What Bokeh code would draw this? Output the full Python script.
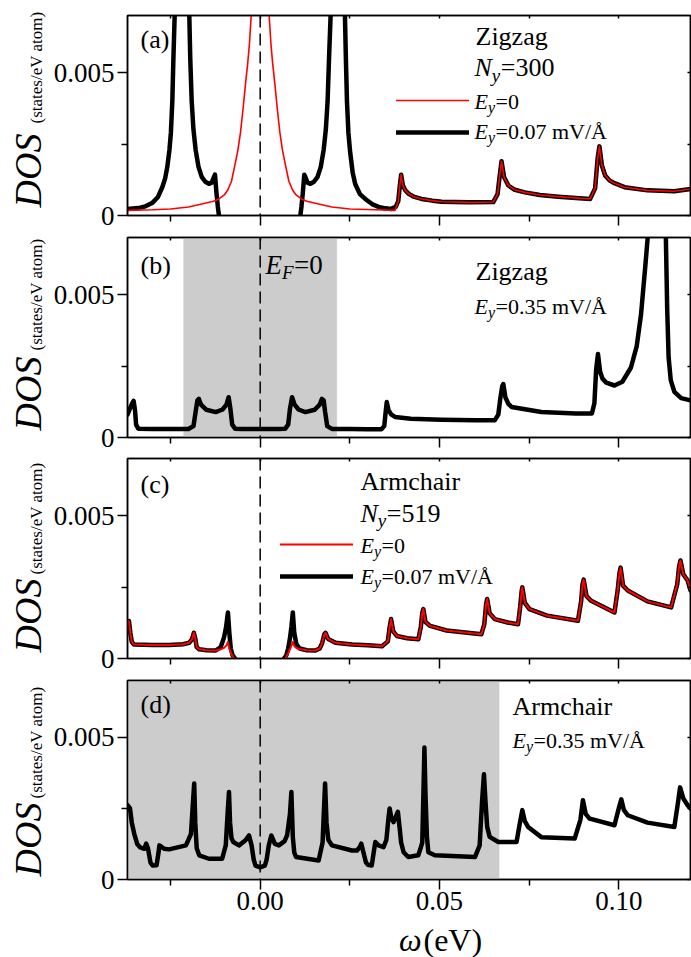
from math import pi

import numpy as np
from bokeh.embed import file_html
from bokeh.layouts import column, row
from bokeh.models import (BoxAnnotation, ColumnDataSource, CustomJSTickFormatter,
                          FixedTicker, Label, Legend, LegendItem, LinearAxis, Range1d, Span)
from bokeh.plotting import figure
from bokeh.resources import INLINE

nan = float("nan")
FONT = "Liberation Serif"
MID = 0.3375          # distance from baseline to the middle of a text line, in em

# ---------------------------------------------------------------- axes
X_RANGE = (-0.037, 0.12)
Y_RANGE = (0.0, 0.007)
x_major = [0.0, 0.05, 0.10]
x_minor = [-0.025, 0.025, 0.075]
x_labels = ["0.00", "0.05", "0.10"]
y_major = [0.0, 0.005]
y_minor = [0.0025]
y_labels = ["0", "0.005"]
fermi_level = 0.0

# ---------------------------------------------------------------- (a) zigzag, N_y = 300
# common high-energy part of both curves
zz_tail_x = [0.0385, 0.0389, 0.0393, 0.0398, 0.0405, 0.0415, 0.0430, 0.0450, 0.0480, 0.0506,
             0.0580, 0.0650, 0.0662, 0.0668, 0.0673, 0.0680, 0.0692, 0.0710, 0.0738, 0.0780,
             0.0831, 0.0920, 0.0934, 0.0941, 0.0946, 0.0953, 0.0962, 0.0975, 0.0988, 0.1016,
             0.1080, 0.1155, 0.1200]
zz_tail_y = [0.00050, 0.00100, 0.00143, 0.00105, 0.00088, 0.00075, 0.00065, 0.00058, 0.00052, 0.00048,
             0.00046, 0.00047, 0.00075, 0.00140, 0.00190, 0.00135, 0.00105, 0.00090, 0.00081, 0.00072,
             0.00066, 0.00058, 0.00095, 0.00200, 0.00242, 0.00175, 0.00140, 0.00122, 0.00113, 0.00099,
             0.00088, 0.00085, 0.00093]
# E_y = 0
zz_e0_x = [-0.0370, -0.0300, -0.0250, -0.0200, -0.0160, -0.0130, -0.0115, -0.0100, -0.0090, -0.0080,
           -0.0070, -0.0062, -0.0055, -0.0048, -0.0041, -0.0035, -0.0030, -0.0024, 0.0000, 0.0024,
           0.0030, 0.0035, 0.0041, 0.0048, 0.0055, 0.0062, 0.0070, 0.0080, 0.0090, 0.0100,
           0.0115, 0.0130, 0.0160, 0.0200, 0.0250, 0.0320, 0.0376]
zz_e0_y = [0.00018, 0.00020, 0.00023, 0.00030, 0.00041, 0.00050, 0.00058, 0.00072, 0.00090, 0.00120,
           0.00180, 0.00230, 0.00290, 0.00370, 0.00460, 0.00530, 0.00600, 0.00720, 0.01500, 0.00720,
           0.00600, 0.00530, 0.00460, 0.00370, 0.00290, 0.00230, 0.00180, 0.00120, 0.00090, 0.00072,
           0.00058, 0.00050, 0.00041, 0.00030, 0.00023, 0.00020, 0.00018]
# E_y = 0.07 mV/A (gap around E = 0)
zz_e07_x = [-0.0370, -0.0340, -0.0320, -0.0300, -0.0285, -0.0273, -0.0265, -0.0259, -0.0253, -0.0249,
            -0.0245, -0.0242, -0.0238, -0.0218, -0.0198, -0.0195, -0.0191, -0.0186, -0.0180, -0.0172,
            -0.0163, -0.0153, -0.0143, -0.0135, -0.0129, -0.0126, -0.0122, -0.0118, -0.0115, nan,
            0.0112, 0.0115, 0.0119, 0.0123, 0.0126, 0.0132, 0.0140, 0.0150, 0.0160, 0.0169,
            0.0177, 0.0183, 0.0188, 0.0192, 0.0197, 0.0217, 0.0236, 0.0239, 0.0242, 0.0246,
            0.0251, 0.0258, 0.0265, 0.0278, 0.0293, 0.0312, 0.0330, 0.0350, 0.0365, 0.0378]
zz_e07_y = [0.00023, 0.00026, 0.00032, 0.00045, 0.00065, 0.00099, 0.00130, 0.00170, 0.00230, 0.00290,
            0.00400, 0.00550, 0.00720, 0.01000, 0.00720, 0.00550, 0.00400, 0.00300, 0.00230, 0.00170,
            0.00135, 0.00118, 0.00111, 0.00115, 0.00135, 0.00143, 0.00080, 0.00030, 0.00000, nan,
            0.00000, 0.00030, 0.00080, 0.00143, 0.00135, 0.00115, 0.00111, 0.00118, 0.00135, 0.00170,
            0.00230, 0.00300, 0.00400, 0.00550, 0.00720, 0.01000, 0.00720, 0.00550, 0.00400, 0.00290,
            0.00220, 0.00150, 0.00110, 0.00075, 0.00058, 0.00040, 0.00030, 0.00025, 0.00023, 0.00030]

# ---------------------------------------------------------------- (b) zigzag, E_y = 0.35 mV/A
zz35_x = [-0.0370, -0.0362, -0.0356, -0.0353, -0.0349, -0.0346, -0.0340, -0.0300, -0.0250, -0.0200,
          -0.0186, -0.0180, -0.0175, -0.0171, -0.0165, -0.0150, -0.0124, -0.0105, -0.0094, -0.0088,
          -0.0083, -0.0078, -0.0070, -0.0050, 0.0000, 0.0050, 0.0070, 0.0078, 0.0083, 0.0089,
          0.0096, 0.0107, 0.0126, 0.0152, 0.0166, 0.0172, 0.0177, 0.0181, 0.0187, 0.0200,
          0.0250, 0.0300, 0.0338, 0.0346, 0.0350, 0.0353, 0.0358, 0.0366, 0.0376, 0.0420,
          0.0506, 0.0600, 0.0654, 0.0664, 0.0670, 0.0675, 0.0678, 0.0684, 0.0692, 0.0701,
          0.0784, 0.0880, 0.0925, 0.0932, 0.0937, 0.0942, 0.0948, 0.0955, 0.0965, 0.0988,
          0.1010, 0.1034, 0.1050, 0.1062, 0.1074, 0.1082, 0.1106, 0.1131, 0.1135, 0.1139,
          0.1145, 0.1155, 0.1174, 0.1200]
zz35_y = [0.00080, 0.00105, 0.00122, 0.00128, 0.00095, 0.00045, 0.00031, 0.00030, 0.00030, 0.00030,
          0.00040, 0.00090, 0.00130, 0.00135, 0.00115, 0.00097, 0.00089, 0.00098, 0.00115, 0.00141,
          0.00100, 0.00045, 0.00031, 0.00030, 0.00030, 0.00030, 0.00031, 0.00045, 0.00100, 0.00141,
          0.00115, 0.00098, 0.00089, 0.00097, 0.00115, 0.00135, 0.00130, 0.00090, 0.00040, 0.00030,
          0.00030, 0.00029, 0.00029, 0.00040, 0.00090, 0.00124, 0.00095, 0.00080, 0.00072, 0.00066,
          0.00062, 0.00060, 0.00060, 0.00080, 0.00140, 0.00180, 0.00187, 0.00140, 0.00118, 0.00107,
          0.00089, 0.00084, 0.00084, 0.00120, 0.00240, 0.00292, 0.00230, 0.00205, 0.00192, 0.00182,
          0.00195, 0.00245, 0.00320, 0.00430, 0.00600, 0.00720, 0.01100, 0.00720, 0.00450, 0.00280,
          0.00200, 0.00160, 0.00138, 0.00130]
zz35_window = (-0.0214, 0.0214)

# ---------------------------------------------------------------- (c) armchair, N_y = 519
ac_left_x = [-0.0370, -0.0366, -0.0362, -0.0358, -0.0352, -0.0300, -0.0254, -0.0215, -0.0198, -0.0190,
             -0.0185, -0.0181, -0.0177, -0.0170, -0.0150, -0.0124]
ac_left_y = [0.00122, 0.00131, 0.00090, 0.00058, 0.00049, 0.00047, 0.00047, 0.00050, 0.00055, 0.00068,
             0.00090, 0.00070, 0.00040, 0.00032, 0.00029, 0.00028]
ac_e07_core_x = [-0.0110, -0.0101, -0.0095, -0.0090, -0.0086, -0.0082, -0.0077, -0.0070, nan,
                 0.0067, 0.0073, 0.0078, 0.0083, 0.0087, 0.0091, 0.0095, 0.0101, 0.0110]
ac_e07_core_y = [0.00040, 0.00073, 0.00110, 0.00161, 0.00090, 0.00035, 0.00012, 0.00000, nan,
                 0.00000, 0.00012, 0.00035, 0.00070, 0.00110, 0.00161, 0.00090, 0.00050, 0.00035]
ac_e0_core_x = [-0.0110, -0.0100, -0.0093, -0.0090, -0.0086, -0.0080, -0.0073, nan,
                0.0070, 0.0077, 0.0084, 0.0088, 0.0091, 0.0096, 0.0102, 0.0110]
ac_e0_core_y = [0.00032, 0.00038, 0.00048, 0.00058, 0.00035, 0.00015, 0.00000, nan,
                0.00000, 0.00015, 0.00035, 0.00048, 0.00058, 0.00042, 0.00036, 0.00033]
ac_right_x = [0.0130, 0.0154, 0.0166, 0.0173, 0.0179, 0.0182, 0.0190, 0.0210, 0.0256, 0.0300,
              0.0340, 0.0356, 0.0361, 0.0365, 0.0371, 0.0381, 0.0410, 0.0441, 0.0448, 0.0452,
              0.0455, 0.0461, 0.0474, 0.0520, 0.0617, 0.0625, 0.0630, 0.0633, 0.0640, 0.0654,
              0.0690, 0.0719, 0.0725, 0.0729, 0.0731, 0.0738, 0.0751, 0.0800, 0.0886, 0.0895,
              0.0899, 0.0902, 0.0910, 0.0923, 0.0988, 0.0997, 0.1002, 0.1005, 0.1012, 0.1025,
              0.1080, 0.1146, 0.1163, 0.1168, 0.1172, 0.1180, 0.1192, 0.1200]
ac_right_y = [0.00029, 0.00028, 0.00035, 0.00055, 0.00085, 0.00090, 0.00068, 0.00055, 0.00049, 0.00046,
              0.00043, 0.00060, 0.00110, 0.00138, 0.00095, 0.00079, 0.00071, 0.00067, 0.00110, 0.00160,
              0.00173, 0.00128, 0.00114, 0.00098, 0.00085, 0.00120, 0.00190, 0.00208, 0.00158, 0.00138,
              0.00126, 0.00120, 0.00180, 0.00235, 0.00249, 0.00195, 0.00173, 0.00150, 0.00132, 0.00200,
              0.00260, 0.00276, 0.00218, 0.00202, 0.00161, 0.00240, 0.00300, 0.00318, 0.00255, 0.00238,
              0.00200, 0.00179, 0.00260, 0.00320, 0.00343, 0.00295, 0.00273, 0.00238]

# ---------------------------------------------------------------- (d) armchair, E_y = 0.35 mV/A
ac35_x = [-0.0370, -0.0363, -0.0358, -0.0351, -0.0343, -0.0335, -0.0323, -0.0318, -0.0313, -0.0306,
          -0.0300, -0.0289, -0.0284, -0.0281, -0.0268, -0.0254, -0.0207, -0.0193, -0.0187, -0.0184,
          -0.0181, -0.0177, -0.0170, -0.0143, -0.0106, -0.0096, -0.0090, -0.0087, -0.0084, -0.0080,
          -0.0075, -0.0059, -0.0041, -0.0031, -0.0024, -0.0018, -0.0013, 0.0000, 0.0013, 0.0018,
          0.0024, 0.0031, 0.0041, 0.0052, 0.0068, 0.0075, 0.0083, 0.0087, 0.0091, 0.0095,
          0.0100, 0.0163, 0.0174, 0.0178, 0.0181, 0.0185, 0.0190, 0.0200, 0.0256, 0.0270,
          0.0278, 0.0282, 0.0287, 0.0295, 0.0300, 0.0311, 0.0316, 0.0321, 0.0330, 0.0344,
          0.0352, 0.0358, 0.0361, 0.0366, 0.0372, 0.0378, 0.0384, 0.0389, 0.0393, 0.0400,
          0.0413, 0.0441, 0.0452, 0.0456, 0.0458, 0.0461, 0.0465, 0.0469, 0.0487, 0.0599,
          0.0612, 0.0619, 0.0624, 0.0629, 0.0633, 0.0640, 0.0664, 0.0715, 0.0723, 0.0731,
          0.0738, 0.0747, 0.0784, 0.0877, 0.0893, 0.0900, 0.0908, 0.0919, 0.0988, 0.1000,
          0.1007, 0.1014, 0.1025, 0.1080, 0.1155, 0.1165, 0.1171, 0.1180, 0.1192, 0.1200]
ac35_y = [0.00262, 0.00250, 0.00200, 0.00160, 0.00125, 0.00113, 0.00108, 0.00126, 0.00110, 0.00060,
          0.00049, 0.00050, 0.00090, 0.00120, 0.00108, 0.00106, 0.00120, 0.00160, 0.00280, 0.00338,
          0.00200, 0.00110, 0.00085, 0.00073, 0.00073, 0.00120, 0.00250, 0.00308, 0.00200, 0.00145,
          0.00132, 0.00120, 0.00138, 0.00155, 0.00120, 0.00070, 0.00049, 0.00043, 0.00049, 0.00070,
          0.00120, 0.00155, 0.00125, 0.00120, 0.00135, 0.00155, 0.00230, 0.00308, 0.00150, 0.00095,
          0.00079, 0.00067, 0.00130, 0.00250, 0.00338, 0.00200, 0.00140, 0.00120, 0.00102, 0.00102,
          0.00115, 0.00126, 0.00100, 0.00060, 0.00052, 0.00049, 0.00090, 0.00132, 0.00120, 0.00114,
          0.00140, 0.00220, 0.00250, 0.00215, 0.00202, 0.00220, 0.00238, 0.00180, 0.00130, 0.00096,
          0.00079, 0.00085, 0.00130, 0.00350, 0.00464, 0.00300, 0.00150, 0.00096, 0.00085, 0.00079,
          0.00120, 0.00280, 0.00370, 0.00260, 0.00185, 0.00150, 0.00132, 0.00132, 0.00190, 0.00244,
          0.00205, 0.00185, 0.00149, 0.00144, 0.00210, 0.00279, 0.00230, 0.00214, 0.00191, 0.00250,
          0.00282, 0.00245, 0.00226, 0.00200, 0.00185, 0.00270, 0.00324, 0.00285, 0.00261, 0.00250]
ac35_window = (-0.037, 0.0667)

RED = "#ff0000"
BLACK = "#000000"
SHADE = "#cccccc"
ITALIC_W = {"E": 0.611, "N": 0.667, "y": 0.444, "F": 0.611}

PAGE_H = 957
STRIP_W = 50          # column that carries the rotated DOS titles
PANEL_W = 691 - STRIP_W


def make_axis(major, minor, labels, outward, standoff=3):
    ax = LinearAxis(ticker=FixedTicker(ticks=major, minor_ticks=minor))
    ax.axis_line_color = BLACK
    ax.axis_line_width = 1.5
    ax.major_tick_line_color = BLACK
    ax.minor_tick_line_color = BLACK
    ax.major_tick_line_width = 1.5
    ax.minor_tick_line_width = 1.5
    if outward:
        ax.major_tick_out, ax.major_tick_in = 10, 0
        ax.minor_tick_out, ax.minor_tick_in = 6, 0
    else:
        ax.major_tick_out, ax.major_tick_in = 0, 3
        ax.minor_tick_out, ax.minor_tick_in = 0, 3
    if labels is not None:
        ax.formatter = CustomJSTickFormatter(
            args=dict(vals=major, labs=labels),
            code="const i = vals.findIndex(v => Math.abs(v - tick) < 1e-9); return i < 0 ? '' : labs[i];")
        ax.major_label_text_font = FONT
        ax.major_label_text_font_size = "27px"
        ax.major_label_text_color = BLACK
        ax.major_label_standoff = standoff
    else:
        ax.formatter = CustomJSTickFormatter(code="return '';")
        ax.major_label_text_font_size = "0px"
        ax.major_label_standoff = 0
    return ax


def make_panel(height, top, bottom, x_tick_labels):
    p = figure(width=PANEL_W, height=height, x_range=Range1d(*X_RANGE), y_range=Range1d(*Y_RANGE),
               x_axis_type=None, y_axis_type=None, output_backend="svg", toolbar_location=None,
               min_border_left=125 - STRIP_W, min_border_right=1,
               min_border_top=top, min_border_bottom=bottom)
    p.outline_line_color = BLACK
    p.outline_line_width = 1.5
    p.background_fill_color = "white"
    p.border_fill_color = "white"
    p.add_layout(make_axis(x_major, x_minor, x_labels if x_tick_labels else None, True, 2), "below")
    p.add_layout(make_axis(y_major, y_minor, y_labels, True, 3), "left")
    p.add_layout(make_axis(x_major, x_minor, None, False), "above")
    p.add_layout(make_axis(y_major, y_minor, None, False), "right")
    return p


def text_canvas(width, height):
    """A bare figure whose data units are pixels, used only for titles."""
    c = figure(width=width, height=height, x_range=Range1d(0, width), y_range=Range1d(0, height),
               x_axis_type=None, y_axis_type=None, output_backend="svg", toolbar_location=None,
               min_border=0, min_border_left=0, min_border_right=0, min_border_top=0,
               min_border_bottom=0)
    c.outline_line_color = None
    c.background_fill_color = "white"
    c.border_fill_color = "white"
    return c


def curve(p, xs, ys, color, width):
    src = ColumnDataSource(dict(x=np.array(xs, dtype=float), y=np.array(ys, dtype=float)))
    return p.line("x", "y", source=src, line_color=color, line_width=width,
                  line_join="round", line_cap="round")


def text(p, dx, dy, s, size, italic=False):
    """Text whose baseline starts dx right of and dy below the frame's top-left corner."""
    p.add_layout(Label(x=X_RANGE[0], y=Y_RANGE[1], x_offset=dx, y_offset=-(dy - MID * size), text=s,
                       text_font=FONT, text_font_size=f"{size}px",
                       text_font_style="italic" if italic else "normal",
                       text_color=BLACK, text_align="left", text_baseline="middle"))


def sub_text(p, dx, dy, main, sub, rest, size):
    text(p, dx, dy, main, size, italic=True)
    w_main = ITALIC_W[main] * size
    s2 = round(size * 0.72)
    text(p, dx + w_main, dy + 0.2 * size, sub, s2, italic=True)
    text(p, dx + w_main + ITALIC_W[sub] * s2 + 0.5, dy, rest, size)


def fermi_line(p):
    p.add_layout(Span(location=fermi_level, dimension="height", line_color=BLACK,
                      line_width=1.5, line_dash="12 6"))


def key(p, renderers, left, bottom):
    items = [LegendItem(label="", renderers=[r]) for r in renderers]
    p.add_layout(Legend(items=items, location=(left, bottom), orientation="vertical",
                        glyph_width=73, glyph_height=32, label_height=32, label_width=0,
                        label_standoff=0, padding=0, margin=0, spacing=0,
                        background_fill_alpha=0, border_line_alpha=0,
                        label_text_font_size="0px"))


# ---------------------------------------------------------------- panel (a)
pa = make_panel(232, 15, 17, False)
fermi_line(pa)
blk_a = curve(pa, zz_e07_x + zz_tail_x, zz_e07_y + zz_tail_y, BLACK, 4.5)
red_a = curve(pa, zz_e0_x + zz_tail_x, zz_e0_y + zz_tail_y, RED, 1.6)
key(pa, [red_a, blk_a], 269, 67)
text(pa, 13, 33, "(a)", 26)
text(pa, 348, 30, "Zigzag", 26)
sub_text(pa, 347, 61, "N", "y", "=300", 26)
sub_text(pa, 347, 93, "E", "y", "=0", 22)
sub_text(pa, 347, 123, "E", "y", "=0.07 mV/Å", 22)

# ---------------------------------------------------------------- panel (b)
pb = make_panel(222, 5, 17, False)
pb.add_layout(BoxAnnotation(left=zz35_window[0], right=zz35_window[1], fill_color=SHADE,
                            fill_alpha=1.0, line_alpha=0, level="underlay"))
fermi_line(pb)
curve(pb, zz35_x, zz35_y, BLACK, 4.5)
text(pb, 13, 36.5, "(b)", 26)
sub_text(pb, 138, 36.5, "E", "F", "=0", 27)
text(pb, 348, 43, "Zigzag", 26)
sub_text(pb, 347, 76, "E", "y", "=0.35 mV/Å", 22)

# ---------------------------------------------------------------- panel (c)
pc = make_panel(221, 4, 17, False)
fermi_line(pc)
blk_c = curve(pc, ac_left_x + ac_e07_core_x + ac_right_x, ac_left_y + ac_e07_core_y + ac_right_y, BLACK, 4.5)
red_c = curve(pc, ac_left_x + ac_e0_core_x + ac_right_x, ac_left_y + ac_e0_core_y + ac_right_y, RED, 2)
key(pc, [red_c, blk_c], 153, 66)
text(pc, 13, 35, "(c)", 26)
text(pc, 233, 32, "Armchair", 26)
sub_text(pc, 233, 63.5, "N", "y", "=519", 26)
sub_text(pc, 233, 94, "E", "y", "=0", 22)
sub_text(pc, 233, 125, "E", "y", "=0.07 mV/Å", 22)

# ---------------------------------------------------------------- panel (d)
pd = make_panel(246, 5, 42, True)
pd.add_layout(BoxAnnotation(left=ac35_window[0], right=ac35_window[1], fill_color=SHADE,
                            fill_alpha=1.0, line_alpha=0, level="underlay"))
fermi_line(pd)
curve(pd, ac35_x, ac35_y, BLACK, 4.5)
text(pd, 13, 33, "(d)", 26)
text(pd, 385, 35, "Armchair", 26)
sub_text(pd, 385, 67, "E", "y", "=0.35 mV/Å", 22)

# ---------------------------------------------------------------- x-axis title: omega (eV)
XT_SIZE = 32
xt = text_canvas(PANEL_W, 36)
xt_base = 7
xt.add_layout(Label(x=309, y=xt_base + MID * XT_SIZE, text="ω", text_font=FONT,
                    text_font_size=f"{XT_SIZE}px", text_font_style="italic", text_color=BLACK,
                    text_align="left", text_baseline="middle"))
xt.add_layout(Label(x=337, y=xt_base + MID * XT_SIZE, text="(eV)", text_font=FONT,
                    text_font_size=f"{XT_SIZE}px", text_color=BLACK,
                    text_align="left", text_baseline="middle"))

# ---------------------------------------------------------------- rotated DOS titles
strip = text_canvas(STRIP_W, PAGE_H)
# (start of "DOS", start of the unit) measured upward from the page bottom, one pair per panel
dos_starts = [(750, 834), (527, 607), (305, 383), (81, 159)]
for dos_y, unit_y in dos_starts:
    strip.add_layout(Label(x=40 - MID * 38, y=dos_y, angle=pi / 2, text="DOS", text_font=FONT,
                           text_font_size="38px", text_font_style="italic", text_color=BLACK,
                           text_align="left", text_baseline="middle"))
    strip.add_layout(Label(x=42 - MID * 17, y=unit_y, angle=pi / 2, text="(states/eV atom)",
                           text_font=FONT, text_font_size="17px", text_color=BLACK,
                           text_align="left", text_baseline="middle"))

layout = row(strip, column(pa, pb, pc, pd, xt, spacing=0), spacing=0)
open("out.html", "w").write(file_html(layout, INLINE))
